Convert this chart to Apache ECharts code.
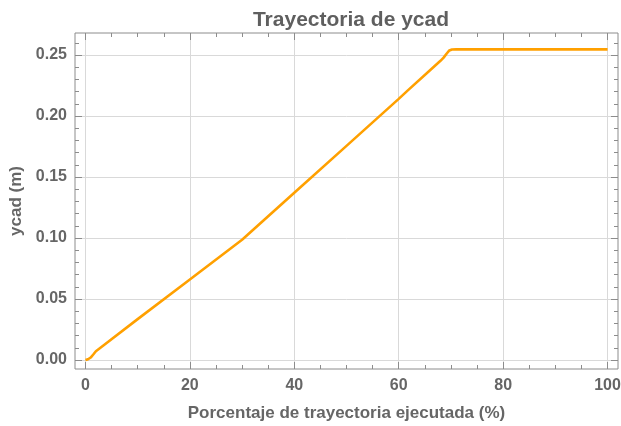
<!DOCTYPE html>
<html>
<head>
<meta charset="utf-8">
<script src="https://cdn.jsdelivr.net/npm/echarts@6/dist/echarts.min.js"></script>
<style>html,body{margin:0;padding:0;background:#fff}#c{width:621px;height:426px}</style>
</head>
<body>
<div id="c"></div>
<script>
// Data
const xValues = [0, 0.5, 1, 1.5, 2, 3, 10, 20, 30, 40, 50, 60, 61.8, 66, 68, 68.6, 69.2, 69.7, 70.2, 71, 80, 90, 100];
const yValues = [0, 0.0006, 0.002, 0.0045, 0.0072, 0.0105, 0.0335, 0.066, 0.0985, 0.137, 0.1755, 0.214, 0.2212, 0.2375, 0.2452, 0.2478, 0.2512, 0.2537, 0.2545, 0.2546, 0.2546, 0.2546, 0.2546];
const xMajorTicks = [0, 20, 40, 60, 80, 100];
const yMajorTicks = [0, 0.05, 0.10, 0.15, 0.20, 0.25];
const titleText = 'Trayectoria de ycad';
const xName = 'Porcentaje de trayectoria ejecutada (%)';
const yName = 'ycad (m)';

const X_MIN = -2, X_MAX = 102, Y_MIN = -0.0074, Y_MAX = 0.268;
const textColor = '#666';
const frameColor = '#8c8c8c';
const gridColor = '#d9d9d9';
const font = 'Liberation Sans, Arial, sans-serif';

function axis(dim, pos, withLabels) {
  const isX = dim === 'x';
  const ticks = isX ? xMajorTicks : yMajorTicks;
  return {
    type: 'value', position: pos, min: isX ? X_MIN : Y_MIN, max: isX ? X_MAX : Y_MAX,
    axisLine: {show: false, onZero: false},
    axisTick: {show: true, inside: true, length: 7, customValues: ticks, lineStyle: {color: frameColor, width: 1}},
    minorTick: {show: true, splitNumber: isX ? 4 : 5, length: 4, lineStyle: {color: frameColor, width: 1}},
    axisLabel: withLabels ? {show: true, customValues: ticks, color: textColor, fontFamily: font, fontWeight: 'bold', fontSize: 16, margin: isX ? 9 : 8,
      formatter: v => isX ? String(v) : v.toFixed(2)} : {show: false},
    splitLine: withLabels ? {show: true, lineStyle: {color: gridColor, width: 1}} : {show: false},
    name: withLabels ? (isX ? xName : yName) : '', nameLocation: 'middle', nameGap: isX ? 36 : 45,
    nameTextStyle: {color: textColor, fontFamily: font, fontWeight: 'bold', fontSize: 17}
  };
}

const chart = echarts.init(document.getElementById('c'), null, {renderer: 'canvas'});
chart.setOption({
  animation: false,
  backgroundColor: '#fff',
  title: {text: titleText, left: 346, textAlign: 'center', top: 5,
    textStyle: {color: '#5f5f5f', fontFamily: font, fontWeight: 'bold', fontSize: 21}},
  grid: {left: 75, right: 3, top: 33, bottom: 57, containLabel: false, outerBoundsMode: 'none',
    show: true, borderColor: frameColor, borderWidth: 1, backgroundColor: 'transparent'},
  xAxis: [axis('x', 'bottom', true), axis('x', 'top', false)],
  yAxis: [axis('y', 'left', true), axis('y', 'right', false)],
  series: [{
    type: 'line', xAxisIndex: 0, yAxisIndex: 0,
    data: xValues.map((x, i) => [x, yValues[i]]),
    showSymbol: false, smooth: false,
    lineStyle: {color: '#FFA000', width: 2.6},
    itemStyle: {color: '#FFA000'}
  }]
});
</script>
</body>
</html>
